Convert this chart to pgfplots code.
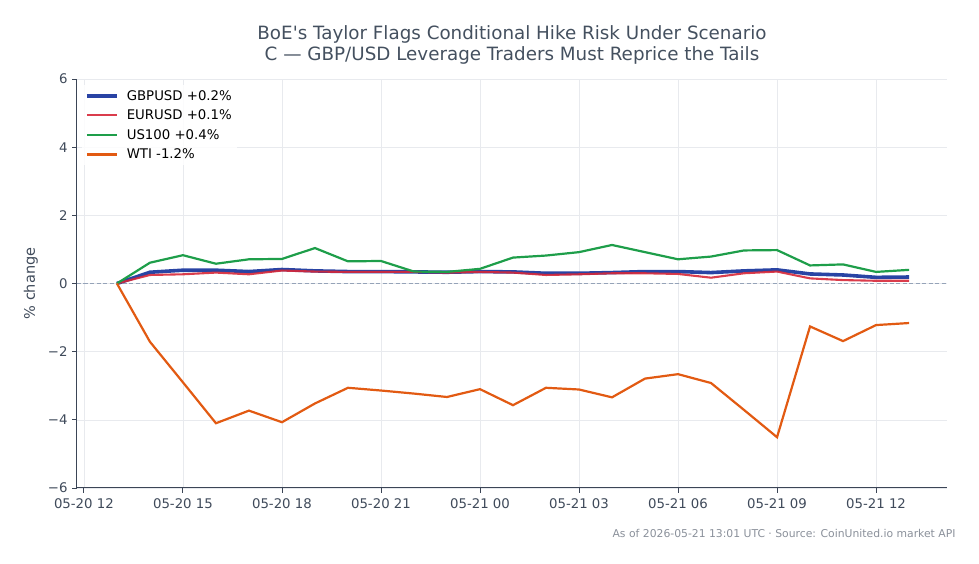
\documentclass[border=0pt]{standalone}
\usepackage{pgfplots}
\pgfplotsset{compat=1.18}
\usepackage{fontspec}
\setmainfont{DejaVu Sans}[Ligatures=TeXOff]

\definecolor{gbp}{HTML}{1E3A9F}
\definecolor{eur}{HTML}{D62839}
\definecolor{nasdaq}{HTML}{1E9E4A}
\definecolor{wti}{HTML}{E25A12}
\definecolor{spine}{HTML}{3B4556}
\definecolor{ticktext}{HTML}{3F4A5A}
\definecolor{titletext}{HTML}{44505F}
\definecolor{gridc}{HTML}{E8EAEE}
\definecolor{zeroline}{HTML}{95A3B8}
\definecolor{notetext}{HTML}{8A909A}

% hours after 05-20 12:00 UTC, % change since the first bar
\pgfplotstableread{
h   gbp   eur   us100  wti
1   0.00  0.00  0.00   0.00
2   0.33  0.25  0.61  -1.71
3   0.39  0.27  0.83  -2.90
4   0.39  0.32  0.58  -4.10
5   0.35  0.27  0.71  -3.73
6   0.41  0.38  0.72  -4.07
7   0.37  0.35  1.04  -3.52
8   0.35  0.34  0.65  -3.06
9   0.35  0.34  0.66  -3.14
10  0.34  0.34  0.35  -3.23
11  0.33  0.32  0.34  -3.33
12  0.35  0.34  0.43  -3.10
13  0.34  0.32  0.76  -3.57
14  0.30  0.25  0.82  -3.06
15  0.30  0.27  0.92  -3.11
16  0.32  0.30  1.13  -3.34
17  0.35  0.30  0.92  -2.79
18  0.35  0.28  0.71  -2.66
19  0.32  0.17  0.79  -2.92
20  0.37  0.30  0.97  -3.71
21  0.40  0.35  0.98  -4.51
22  0.28  0.15  0.53  -1.26
23  0.25  0.10  0.56  -1.69
24  0.18  0.08  0.34  -1.22
25  0.19  0.08  0.40  -1.16
}\moves

\begin{document}
\begin{tikzpicture}
\begin{axis}[
  scale only axis,
  width=870pt, height=409pt,
  xmin=-0.21, xmax=26.15,
  ymin=-6, ymax=6,
  axis lines*=left,
  axis line style={spine, line width=1pt},
  every tick/.style={spine, line width=0.9pt},
  tick align=outside,
  major tick length=5pt,
  xtick={0,3,6,9,12,15,18,21,24},
  xticklabels={05-20 12,05-20 15,05-20 18,05-20 21,05-21 00,05-21 03,05-21 06,05-21 09,05-21 12},
  ytick={-6,-4,-2,0,2,4,6},
  yticklabels={−6,−4,−2,0,2,4,6},
  ticklabel style={font=\fontsize{13.3}{16}\selectfont, text=ticktext},
  xticklabel style={yshift=-2pt},
  yticklabel style={xshift=-1pt},
  grid=major,
  major grid style={gridc, line width=0.6pt},
  ylabel={\% change},
  ylabel style={at={(axis description cs:-0.0529,0.5)}, anchor=center,
    font=\fontsize{14.5}{17}\selectfont, text=ticktext},
  title={BoE's Taylor Flags Conditional Hike Risk Under Scenario\\C — GBP/USD Leverage Traders Must Reprice the Tails},
  title style={at={(axis description cs:0.5,1)}, anchor=center, yshift=28pt,
    align=center, font=\fontsize{18.3}{21}\selectfont, text=titletext, inner sep=0pt},
  legend style={at={(axis description cs:0,1)}, anchor=north west,
    xshift=5pt, yshift=-6pt, draw=none, fill=white, fill opacity=0.85, text opacity=1,
    font=\fontsize{13.3}{16}\selectfont, row sep=4.2pt, inner sep=3pt},
  legend cell align=left,
  legend image code/.code={\draw[#1] (0pt,0pt) -- (30pt,0pt); \path (36pt,0pt);},
  clip=false,
]
\addplot[zeroline, forget plot, line width=1pt, dash pattern=on 4pt off 2.5pt] coordinates {(-0.21,0) (26.15,0)};
\addplot[gbp, line width=3.6pt, opacity=0.95] table[x=h, y=gbp] {\moves};
\addlegendentry{GBPUSD +0.2\%}
\addplot[eur, line width=2.1pt, opacity=0.9] table[x=h, y=eur] {\moves};
\addlegendentry{EURUSD +0.1\%}
\addplot[nasdaq, line width=2.2pt] table[x=h, y=us100] {\moves};
\addlegendentry{US100 +0.4\%}
\addplot[wti, line width=2.2pt] table[x=h, y=wti] {\moves};
\addlegendentry{WTI -1.2\%}
\end{axis}
\node[anchor=base east, font=\fontsize{10.8}{13}\selectfont, text=notetext]
  at ([shift={(882pt,-50pt)}]current axis.south west) {As of 2026-05-21 13:01 UTC · Source: CoinUnited.io market API};
\path ([shift={(-77pt,-76pt)}]current axis.south west) rectangle ([shift={(902pt,488pt)}]current axis.south west);
\end{tikzpicture}
\end{document}
